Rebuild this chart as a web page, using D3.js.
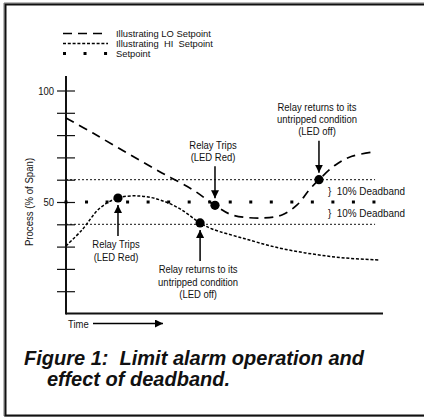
<!DOCTYPE html>
<html>
<head>
<meta charset="utf-8">
<script src="https://cdn.jsdelivr.net/npm/d3@7"></script>
<style>
  body { margin: 0; background: #fff; }
  text { font-family: "Liberation Sans", Arial, sans-serif; fill: #111; }
</style>
</head>
<body>
<script>
// process curves, time in % of the run, value in % of span
let loTime = [0, 8.5, 19.2, 29.7, 40.1, 47, 52.4, 61.8, 68.1, 72.9, 76.7, 79.8, 84.9, 90.2, 97.5];
let loValue = [87.7, 80.9, 72.0, 63.5, 55.4, 48.5, 44.2, 42.8, 44.2, 48.7, 55.4, 60, 66.5, 70.5, 72.5];
let hiTime = [0, 5, 10.7, 16.4, 23.3, 29.7, 36, 42.3, 46.1, 56.5, 67.2, 77.6, 88, 98.7];
let hiValue = [30.3, 37.4, 47.3, 51.8, 52.7, 50.9, 46.9, 40.6, 37.9, 33.5, 29.4, 26.7, 24.9, 24];
let setpoint = 50;
let deadbandHi = 60;
let deadbandLo = 40;
let lineEnd = 97.5;
let yTicks = [10, 20, 30, 40, 50, 60, 70, 80, 90, 100];
let yLabels = [50, 100];
let legendLabels = ["Illustrating LO Setpoint", "Illustrating  HI  Setpoint", "Setpoint"];
let events = [
    {t: 16.4, v: 51.8, lines: ["Relay Trips", "(LED Red)"], side: "below"},
    {t: 42.3, v: 40.6, lines: ["Relay returns to its", "untripped condition", "(LED off)"], side: "below"},
    {t: 47, v: 48.5, lines: ["Relay Trips", "(LED Red)"], side: "above"},
    {t: 79.8, v: 60, lines: ["Relay returns to its", "untripped condition", "(LED off)"], side: "above"}
];

let size = {width: 424, height: 419};
let svg = d3.select("body").append("svg")
    .attr("width", size.width)
    .attr("height", size.height);

// squeeze a text sideways so it reads like a narrow face
let narrow = sel => sel.each(function () {
    let w = this.getComputedTextLength();
    if (w > 0) d3.select(this)
        .attr("textLength", w * 0.86)
        .attr("lengthAdjust", "spacingAndGlyphs");
});

svg.append("defs").append("marker")
    .attr("id", "head")
    .attr("viewBox", "0 0 10 10")
    .attr("refX", 10).attr("refY", 5)
    .attr("markerWidth", 8).attr("markerHeight", 8)
    .attr("markerUnits", "userSpaceOnUse")
    .attr("orient", "auto")
    .append("path")
    .attr("d", "M0,0L10,5L0,10Z")
    .attr("fill", "#000");

// frame
svg.append("path")
    .attr("d", "M424,3H4V416H424")
    .attr("fill", "none")
    .attr("stroke", "#777")
    .attr("stroke-width", 1);
svg.append("path")
    .attr("d", "M424,4.5H5.5V415.5H424")
    .attr("fill", "none")
    .attr("stroke", "#111")
    .attr("stroke-width", 2);

let x = d3.scaleLinear().domain([0, 100]).range([66, 383]);
let y = d3.scaleLinear().domain([0, 100]).range([313.5, 90.5]);

// y axis with crossing ticks
let yAxis = svg.append("g")
    .attr("transform", `translate(${x(0)},0)`)
    .call(d3.axisLeft(y).tickValues(yTicks).tickSize(9).tickPadding(3)
        .tickFormat(d => yLabels.includes(d) ? d : ""));
yAxis.select(".domain").remove();
yAxis.selectAll(".tick line").attr("x1", 9).attr("stroke", "#111").attr("stroke-width", 1.2);
yAxis.selectAll(".tick text").attr("font-size", 11).attr("font-family", null).call(narrow);

svg.append("line")
    .attr("x1", x(0)).attr("x2", x(0))
    .attr("y1", y(106.5)).attr("y2", y(0) + 1)
    .attr("stroke", "#111").attr("stroke-width", 2);
svg.append("line")
    .attr("x1", x(0)).attr("x2", x(100))
    .attr("y1", y(0)).attr("y2", y(0))
    .attr("stroke", "#111").attr("stroke-width", 2);

svg.append("text")
    .attr("transform", `translate(33,${y(50)}) rotate(-90)`)
    .attr("text-anchor", "middle")
    .attr("font-size", 11.2)
    .text("Process (% of Span)")
    .call(narrow);

svg.append("text")
    .attr("x", 68).attr("y", 327.5)
    .attr("font-size", 11)
    .text("Time")
    .call(narrow);
svg.append("line")
    .attr("x1", 93).attr("x2", 163)
    .attr("y1", 323.5).attr("y2", 323.5)
    .attr("stroke", "#000").attr("stroke-width", 1.5)
    .attr("marker-end", "url(#head)");

// deadband and setpoint lines
[deadbandHi, deadbandLo].forEach(v => {
    svg.append("line")
        .attr("x1", x(0)).attr("x2", x(lineEnd))
        .attr("y1", y(v)).attr("y2", y(v))
        .attr("stroke", "#111").attr("stroke-width", 1)
        .attr("stroke-dasharray", "2,2");
});
svg.append("line")
    .attr("x1", x(0) - 1.5).attr("x2", x(lineEnd) + 2)
    .attr("y1", y(setpoint)).attr("y2", y(setpoint))
    .attr("stroke", "#000").attr("stroke-width", 3)
    .attr("stroke-dasharray", "3,17.53");

[[deadbandHi, setpoint], [setpoint, deadbandLo]].forEach(([a, b]) => {
    let my = (y(a) + y(b)) / 2;
    svg.append("text")
        .attr("x", 328).attr("y", my + 4)
        .attr("font-size", 11.5)
        .style("white-space", "pre")
        .text("}  10% Deadband")
        .call(narrow);
});

let line = d3.line()
    .x(d => x(d[0]))
    .y(d => y(d[1]))
    .curve(d3.curveCatmullRom.alpha(0.5));

svg.append("path")
    .datum(d3.zip(loTime, loValue))
    .attr("fill", "none")
    .attr("stroke", "#000")
    .attr("stroke-width", 1.7)
    .attr("stroke-dasharray", "9,6")
    .attr("d", line);

svg.append("path")
    .datum(d3.zip(hiTime, hiValue))
    .attr("fill", "none")
    .attr("stroke", "#000")
    .attr("stroke-width", 1.5)
    .attr("stroke-dasharray", "3,1.8")
    .attr("d", line);

// events
events.forEach(e => {
    let cx = x(e.t), cy = y(e.v);
    svg.append("circle")
        .attr("cx", cx).attr("cy", cy).attr("r", 4.6)
        .attr("fill", "#000");
    let below = e.side === "below";
    let tail = below ? cy + 38 : cy - 39;
    let tip = below ? cy + 7 : cy - 7;
    svg.append("line")
        .attr("x1", cx).attr("x2", cx)
        .attr("y1", tail).attr("y2", tip)
        .attr("stroke", "#000").attr("stroke-width", 1.5)
        .attr("marker-end", "url(#head)");
    let n = e.lines.length;
    e.lines.forEach((s, i) => {
        let ty = below ? tail + 12.5 + i * 12.3 : tail - 5.5 - (n - 1 - i) * 12.3;
        svg.append("text")
            .attr("x", cx - 2).attr("y", ty)
            .attr("text-anchor", "middle")
            .attr("font-size", 11)
            .text(s)
            .call(narrow);
    });
});

// legend
let legend = svg.append("g");
let legendStyles = [
    {dash: "9,6", width: 1.7},
    {dash: "3,1.8", width: 1.5},
    {dash: "3,17.53", width: 3}
];
legendLabels.forEach((label, i) => {
    let ly = 33.5 + i * 10;
    legend.append("line")
        .attr("x1", 63).attr("x2", 108)
        .attr("y1", ly).attr("y2", ly)
        .attr("stroke", "#000")
        .attr("stroke-width", legendStyles[i].width)
        .attr("stroke-dasharray", legendStyles[i].dash);
    legend.append("text")
        .attr("x", 116).attr("y", ly + 3.4)
        .attr("font-size", 9.4)
        .style("white-space", "pre")
        .text(label);
});

// caption
let caption = svg.append("g")
    .attr("font-weight", "bold")
    .attr("font-style", "italic")
    .attr("font-size", 20);
caption.append("text")
    .attr("x", 24).attr("y", 365)
    .style("white-space", "pre")
    .text("Figure 1:  Limit alarm operation and");
caption.append("text")
    .attr("x", 47).attr("y", 386)
    .text("effect of deadband.");
</script>
</body>
</html>
